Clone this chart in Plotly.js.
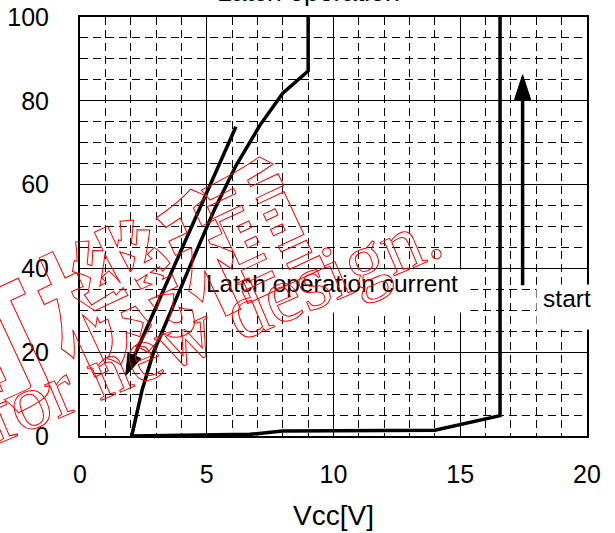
<!DOCTYPE html>
<html>
<head>
<meta charset="utf-8">
<script src="https://cdn.plot.ly/plotly-3.0.1.min.js"></script>
<style>
  html, body { margin: 0; padding: 0; background: #fff; }
  #chart { width: 615px; height: 533px; }
</style>
</head>
<body>
<div id="chart"></div>
<script>
// Icc–Vcc operating curve: supply voltage [V] against supply current.
// Latch branch comes down from the top at 9 V, the start branch runs along
// the bottom and jumps up at about 16.6 V.
const vccCurve = [9.0, 9.0, 8.0, 7.1, 6.15, 5.3, 4.3, 2.9, 2.45, 2.04, 6.7, 8.0, 14.0, 16.57, 16.57];
const iccCurve = [100, 87.1, 81.8, 74.2, 64.5, 54.0, 40.0, 20.0, 11.0, 0.0, 0.4, 1.2, 1.4, 4.85, 100];

// Direction arrows: falling Vcc during latch, rising Vcc at start-up.
const fallArrowVcc = [6.15, 1.8];
const fallArrowIcc = [73.8, 14.4];
const startArrowVcc = [17.46, 17.46];
const startArrowIcc = [36.0, 86.2];

// Axis ticks.
const xTicks = [0, 5, 10, 15, 20];
const yTicks = [0, 20, 40, 60, 80, 100];

// Label texts.
const latchLabel = 'Latch operation current';
const startLabel = 'start';
const headText = 'Latch operation';
const stampLine1 = '可機種';
const stampLine2 = 'for new design.';

const black = '#000000';

const arrowMarker = (size) => ({
  symbol: 'arrow', angleref: 'previous', size: [0, size],
  color: black, opacity: 1, line: { width: 1, color: black }
});

const data = [
  {
    x: vccCurve, y: iccCurve, type: 'scatter', mode: 'lines',
    line: { color: black, width: 3.5 },
    hoverinfo: 'skip'
  },
  {
    x: fallArrowVcc, y: fallArrowIcc, type: 'scatter', mode: 'lines+markers',
    line: { color: black, width: 3.5 },
    marker: arrowMarker(23),
    hoverinfo: 'skip'
  },
  {
    x: startArrowVcc, y: startArrowIcc, type: 'scatter', mode: 'lines+markers',
    line: { color: black, width: 3.5 },
    marker: arrowMarker(26),
    hoverinfo: 'skip'
  }
];

const gridMinor = (step) => ({
  dtick: step, showgrid: true, gridcolor: black, gridwidth: 1,
  griddash: '8px,5px', ticks: ''
});

const layout = {
  width: 615, height: 533,
  margin: { l: 80, r: 28, t: 17, b: 97 },
  paper_bgcolor: '#ffffff', plot_bgcolor: '#ffffff',
  showlegend: false,
  font: { family: '"Liberation Sans", Arial, sans-serif', color: black, size: 24 },
  xaxis: {
    range: [0, 20], tickvals: xTicks, ticktext: xTicks.map(String),
    showgrid: true, gridcolor: black, gridwidth: 1,
    minor: gridMinor(1),
    showline: true, mirror: true, linecolor: black, linewidth: 2,
    ticks: 'outside', ticklen: 15, tickcolor: 'rgba(0,0,0,0)',
    tickfont: { size: 25, color: black },
    zeroline: false, automargin: false,
    title: { text: 'Vcc[V]', font: { size: 28, color: black }, standoff: 18 }
  },
  yaxis: {
    range: [0, 100], tickvals: yTicks, ticktext: yTicks.map(String),
    showgrid: true, gridcolor: black, gridwidth: 1,
    minor: gridMinor(5),
    showline: true, mirror: true, linecolor: black, linewidth: 2,
    ticks: 'outside', ticklen: 24, tickcolor: 'rgba(0,0,0,0)',
    tickfont: { size: 25, color: black },
    zeroline: false, automargin: false
  },
  annotations: [
    {
      text: latchLabel, xref: 'paper', yref: 'paper',
      x: 0.497, y: 0.3461, xanchor: 'center', yanchor: 'middle',
      width: 276, height: 42, borderpad: 0, valign: 'top', align: 'center',
      bgcolor: '#ffffff', showarrow: false,
      font: { size: 24.5, color: black }
    },
    {
      text: startLabel, xref: 'paper', yref: 'paper',
      x: 0.9606, y: 0.3079, xanchor: 'center', yanchor: 'middle',
      width: 60, height: 44, borderpad: 0, valign: 'top', align: 'center',
      bgcolor: '#ffffff', showarrow: false,
      font: { size: 24.5, color: black }
    },
    {
      text: headText, xref: 'paper', yref: 'paper',
      x: 0.4507, y: 1.0188, xanchor: 'center', yanchor: 'bottom',
      showarrow: false, font: { size: 26.5, color: black }
    },
    {
      text: stampLine1, xref: 'paper', yref: 'paper',
      x: 0.0552, y: 0.3484, xanchor: 'center', yanchor: 'middle',
      textangle: -25, showarrow: false,
      font: { family: '"Noto Sans CJK JP", "Noto Sans CJK SC", sans-serif', size: 140, weight: 700, color: '#ff0000' }
    },
    {
      text: stampLine2, xref: 'paper', yref: 'paper',
      x: 0.2600, y: 0.2650, xanchor: 'center', yanchor: 'middle',
      textangle: -23, showarrow: false,
      font: { family: '"Liberation Serif", "DejaVu Serif", serif', size: 79, color: '#ff0000' }
    }
  ]
};

const gd = document.getElementById('chart');
Plotly.newPlot(gd, data, layout, { staticPlot: true, displayModeBar: false }).then(() => {
  // The stamp is drawn as hollow red lettering.
  [3, 4].forEach((i) => {
    const t = gd.querySelector('g.annotation[data-index="' + i + '"] text.annotation-text');
    if (t) {
      t.style.fill = 'none';
      t.style.stroke = '#ff0000';
      t.style.strokeWidth = '1px';
    }
  });
});
</script>
</body>
</html>
